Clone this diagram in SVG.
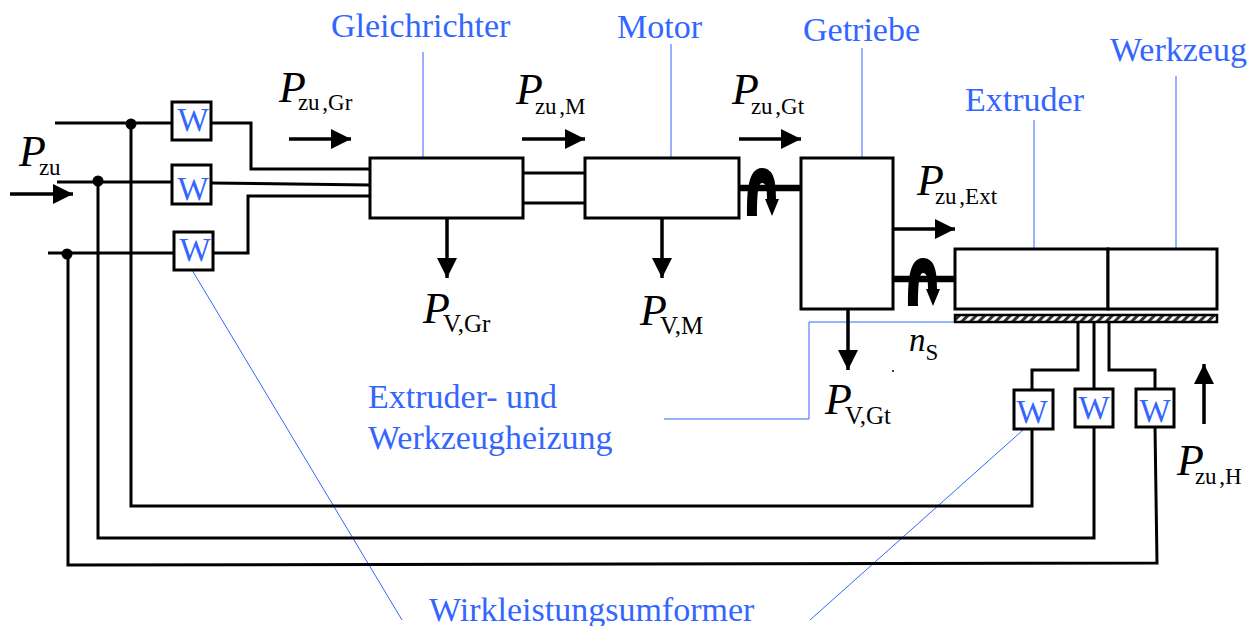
<svg xmlns="http://www.w3.org/2000/svg" width="1254" height="626" viewBox="0 0 1254 626">
<defs>
<style>
.l{fill:none;stroke:#000;stroke-width:3}
.a{fill:none;stroke:#000;stroke-width:3.5}
.b{fill:#fff;stroke:#000;stroke-width:3}
.bl{fill:none;stroke:#3366ff;stroke-width:1}
.t{font-family:"Liberation Serif",serif;fill:#3366ff;font-size:34px}
.w{font-family:"Liberation Serif",serif;fill:#3366ff;font-size:33px;text-anchor:middle}
.p{font-family:"Liberation Serif",serif;font-size:23px;fill:#000;word-spacing:-3px}
.i{font-style:italic;font-size:44px}
.n{font-style:italic;font-size:33px}
.sh{fill:none;stroke:#000;stroke-width:6.5}
</style>
<marker id="ah" markerUnits="userSpaceOnUse" markerWidth="20" markerHeight="20" refX="20" refY="10" orient="auto"><path d="M0,0L20,10L0,20Z"/></marker>
<pattern id="hatch" width="6" height="6" patternUnits="userSpaceOnUse" patternTransform="rotate(45)"><rect width="6" height="6" fill="#fff"/><rect width="3" height="6" fill="#333"/></pattern>
<path id="rot" d="M747,216C747,195 747,168 762,168C775,168 776,185 776,199H779L772,216L765,199H767C767,188 766,183 762,183C758,183 757,195 757,216Z"/>
</defs>
<g id="connectors">
<path class="bl" d="M423,52V158M671,44V158M862,48V158M1034,120V249M1176,76V249M955,322H809V419H664M192,270L402,620M1023,430L810,620"/>
<path class="l" d="M55,123H172M211,123H251V169H370M57,182H172M211,183L370,185M48,253H174M213,253H248V196H370"/>
<path class="l" d="M131,123V506H1032V429M98,181V538H1094V427M68,254V565L1157,563L1155,427"/>
<path class="l" d="M523,173H585M523,203H585M1078,323V370H1032V390M1094,323V389M1109,323V370H1155V389"/>
<circle cx="131" cy="124" r="5.5"/><circle cx="98" cy="181" r="5.5"/><circle cx="67" cy="254" r="5.5"/>
<path class="a" marker-end="url(#ah)" d="M10,194H73"/>
<path class="a" marker-end="url(#ah)" d="M289,139H351"/>
<path class="a" marker-end="url(#ah)" d="M522,139H585"/>
<path class="a" marker-end="url(#ah)" d="M739,139H801"/>
<path class="a" marker-end="url(#ah)" d="M893,229H955"/>
<path class="a" marker-end="url(#ah)" d="M447,218V278"/>
<path class="a" marker-end="url(#ah)" d="M662,218V278"/>
<path class="a" marker-end="url(#ah)" d="M848,309V370"/>
<path class="a" marker-end="url(#ah)" d="M1204,424V364"/>
<path class="sh" d="M739,188H801M893,279H955"/>
<use href="#rot"/>
<use href="#rot" x="161" y="90"/>
</g>
<g id="gleichrichter"><rect class="b" x="370" y="158" width="153" height="60"/><text class="t" x="331" y="37">Gleichrichter</text></g>
<g id="motor"><rect class="b" x="585" y="158" width="154" height="60"/><text class="t" x="617" y="38">Motor</text></g>
<g id="getriebe"><rect class="b" x="801" y="158" width="92" height="151"/><text class="t" x="803" y="41">Getriebe</text></g>
<g id="extruder"><rect class="b" x="955" y="249" width="153" height="60"/><text class="t" x="965" y="111">Extruder</text></g>
<g id="werkzeug"><rect class="b" x="1108" y="249" width="109" height="60"/><text class="t" x="1110" y="61">Werkzeug</text></g>
<g id="heizung"><rect x="955" y="315" width="262" height="7" fill="url(#hatch)" stroke="#000" stroke-width="2.5"/><text class="t" x="368" y="408">Extruder- und</text><text class="t" x="368" y="449">Werkzeugheizung</text></g>
<g id="w1"><rect class="b" x="172" y="102" width="39" height="38"/><text class="w" x="193" y="131">W</text></g>
<g id="w2"><rect class="b" x="172" y="165" width="39" height="39"/><text class="w" x="193" y="200">W</text></g>
<g id="w3"><rect class="b" x="174" y="232" width="39" height="38"/><text class="w" x="195" y="261">W</text></g>
<g id="w4"><rect class="b" x="1014" y="390" width="39" height="39"/><text class="w" x="1032" y="423">W</text></g>
<g id="w5"><rect class="b" x="1075" y="389" width="38" height="38"/><text class="w" x="1094" y="419">W</text></g>
<g id="w6"><rect class="b" x="1136" y="389" width="38" height="38"/><text class="w" x="1155" y="422">W</text></g>
<g id="labels">
<text class="t" x="429" y="621">Wirkleistungsumformer</text>
<text class="p" x="19" y="166"><tspan class="i">P</tspan><tspan dx="-7" dy="9">zu</tspan></text>
<text class="p" x="279" y="102"><tspan class="i">P</tspan><tspan dx="-8" dy="8">zu ,Gr</tspan></text>
<text class="p" x="516" y="104"><tspan class="i">P</tspan><tspan dx="-8" dy="10">zu ,M</tspan></text>
<text class="p" x="732" y="104"><tspan class="i">P</tspan><tspan dx="-8" dy="10">zu ,Gt</tspan></text>
<text class="p" x="917" y="195"><tspan class="i">P</tspan><tspan dx="-9" dy="9">zu ,Ext</tspan></text>
<text class="p" x="423" y="323" style="font-size:25px"><tspan class="i">P</tspan><tspan dx="-7" dy="9">V,Gr</tspan></text>
<text class="p" x="640" y="325" style="font-size:25px"><tspan class="i">P</tspan><tspan dx="-7" dy="9">V,M</tspan></text>
<text class="p" x="825" y="414" style="font-size:25px"><tspan class="i">P</tspan><tspan dx="-7" dy="10">V,Gt</tspan></text>
<text class="p" x="1177" y="475"><tspan class="i">P</tspan><tspan dx="-9" dy="9">zu ,H</tspan></text>
<text class="p" x="909" y="351"><tspan class="n">n</tspan><tspan dx="0" dy="9">S</tspan></text>
<circle cx="893" cy="371" r="1"/>
</g>
</svg>
